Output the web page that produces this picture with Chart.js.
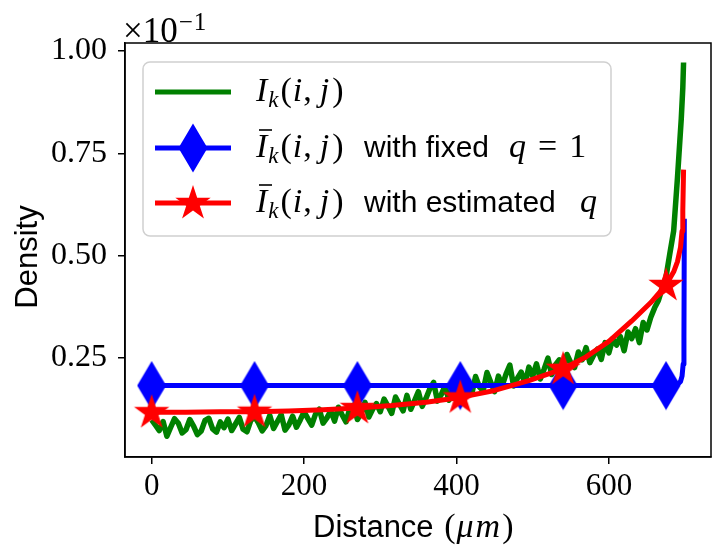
<!DOCTYPE html>
<html><head><meta charset="utf-8">
<script src="https://cdn.jsdelivr.net/npm/chart.js@4.4.0/dist/chart.umd.min.js"></script>
<style>html,body{margin:0;padding:0;background:#fff;}</style>
</head><body>
<canvas id="c" width="728" height="559"></canvas>
<script>
// ---------- data ----------
const xTicks = [0, 200, 400, 600];
const yTicks = [0.25, 0.5, 0.75, 1.0];
const yTickLabels = ['0.25', '0.50', '0.75', '1.00'];
const markerX = [0, 135, 270, 405, 540, 675];

const greenX = [0,5,10,15,20,25,30,35,40,45,50,55,60,65,70,75,80,85,90,95,
  100,105,110,115,120,125,130,135,140,145,150,155,160,165,170,175,180,185,190,195,
  200,205,210,215,220,225,230,235,240,245,250,255,260,265,270,275,280,285,290,295,
  300,305,310,315,320,325,330,335,340,345,350,355,360,365,370,375,380,385,390,395,
  400,405,410,415,420,425,430,435,440,445,450,455,460,465,470,475,480,485,490,495,
  500,505,510,515,520,525,530,535,540,545,550,555,560,565,570,575,580,585,590,595,
  600,605,610,615,620,625,630,635,640,645,650,655,
  660,665,670,675,680,685,690,695,697,698];
const greenY = [0.098,0.085,0.072,0.094,0.058,0.080,0.101,0.090,0.066,0.074,0.099,0.083,0.062,0.071,0.097,0.102,0.076,0.068,0.093,0.079,
  0.100,0.072,0.088,0.104,0.075,0.069,0.096,0.106,0.091,0.071,0.084,0.109,0.077,0.094,0.111,0.073,0.086,0.107,0.080,0.098,
  0.118,0.101,0.085,0.112,0.124,0.090,0.103,0.120,0.095,0.129,0.110,0.093,0.126,0.134,0.099,0.115,0.141,0.105,0.124,0.138,
  0.118,0.149,0.132,0.114,0.154,0.137,0.120,0.158,0.124,0.145,0.167,0.131,0.151,0.174,0.190,0.144,0.160,0.181,0.146,0.172,
  0.185,0.153,0.170,0.195,0.161,0.204,0.179,0.169,0.214,0.190,0.167,0.205,0.182,0.210,0.232,0.181,0.200,0.215,0.186,0.227,
  0.205,0.235,0.198,0.222,0.249,0.209,0.233,0.245,0.217,0.258,0.238,0.226,0.264,0.245,0.275,0.238,0.256,0.271,0.246,0.287,
  0.262,0.296,0.281,0.302,0.267,0.313,0.297,0.321,0.287,0.336,0.318,0.349,
  0.372,0.390,0.420,0.448,0.505,0.560,0.690,0.835,0.910,0.972];

const blueX = [0, 135, 270, 405, 540, 675, 686, 691, 694, 696, 697.5, 698.5, 699];
const blueY = [0.182, 0.182, 0.182, 0.182, 0.182, 0.182, 0.183, 0.186, 0.192, 0.205, 0.235, 0.30, 0.59];

const redX = [0, 45, 90, 135, 180, 225, 270, 315, 360, 405, 450, 495, 540, 570, 600, 630, 655, 675, 685, 690, 694, 696, 697, 698];
const redY = [0.117, 0.117, 0.118, 0.118, 0.120, 0.123, 0.127, 0.133, 0.141, 0.153, 0.170, 0.194, 0.223, 0.252, 0.290, 0.340, 0.385, 0.428, 0.460, 0.485, 0.520, 0.560, 0.610, 0.710];

// ---------- marker images ----------
function diamondImg() {
  const c = document.createElement('canvas'); c.width = 30; c.height = 50;
  const g = c.getContext('2d');
  g.fillStyle = '#0000ff';
  g.beginPath(); g.moveTo(15, 0.5); g.lineTo(29.5, 25); g.lineTo(15, 49.5); g.lineTo(0.5, 25); g.closePath(); g.fill();
  return c;
}
function starImg() {
  const c = document.createElement('canvas'); c.width = 40; c.height = 40;
  const g = c.getContext('2d');
  const R = 18.6, r = R * 0.382, cx = 20, cy = 20.5;
  g.fillStyle = '#ff0000';
  g.beginPath();
  for (let i = 0; i < 10; i++) {
    const a = -Math.PI / 2 + i * Math.PI / 5;
    const rr = i % 2 === 0 ? R : r;
    const px = cx + rr * Math.cos(a), py = cy + rr * Math.sin(a);
    if (i === 0) g.moveTo(px, py); else g.lineTo(px, py);
  }
  g.closePath(); g.fill();
  return c;
}
const DIA = diamondImg();
const STAR = starImg();

const pts = (xs, ys) => xs.map((x, i) => ({x: x, y: ys[i]}));
const markR = (ctx) => (ctx.raw && markerX.includes(ctx.raw.x)) ? 12 : 0;

// ---------- fonts ----------
const MI = 'italic 34px "Liberation Serif"';
const MR = '34px "Liberation Serif"';
const SUB = 'italic 23px "Liberation Serif"';
const SANS = '30px "Liberation Sans"';

function flow(ctx, x, y, parts) {
  for (const p of parts) {
    ctx.font = p.f;
    ctx.fillText(p.t, x, y + (p.dy || 0));
    x += ctx.measureText(p.t).width + (p.sp || 0);
  }
  return x;
}
function ikParts() {
  return [
    {t: 'I', f: MI, sp: 1},
    {t: 'k', f: SUB, dy: 6, sp: 2},
    {t: '(', f: MR, sp: 1},
    {t: 'i', f: MI, sp: 1},
    {t: ',', f: MR, sp: 8},
    {t: 'j', f: MI, sp: 3},
    {t: ')', f: MR}
  ];
}

const deco = {
  id: 'deco',
  afterDraw(chart) {
    const ctx = chart.ctx, a = chart.chartArea;
    ctx.save();
    // frame
    ctx.strokeStyle = '#000'; ctx.lineWidth = 1.5;
    ctx.strokeRect(a.left, a.top, a.right - a.left, a.bottom - a.top);

    // offset text
    ctx.fillStyle = '#000'; ctx.textBaseline = 'alphabetic'; ctx.textAlign = 'left';
    let ox = flow(ctx, 123, 42, [{t: '\u00d7', f: '35px "Liberation Serif"', sp: 0}, {t: '10', f: '35px "Liberation Serif"'}]);
    flow(ctx, ox + 1, 30, [{t: '\u2212', f: '25px "Liberation Serif"', sp: 1}, {t: '1', f: '25px "Liberation Serif"'}]);

    // axis titles
    ctx.save();
    ctx.translate(37, 257); ctx.rotate(-Math.PI / 2);
    ctx.font = '31px "Liberation Sans"'; ctx.textAlign = 'center';
    ctx.fillText('Density', 0, 0);
    ctx.restore();
    ctx.textAlign = 'left';
    flow(ctx, 313, 537, [
      {t: 'Distance ', f: '31px "Liberation Sans"', sp: 2},
      {t: '(', f: MR, sp: 1},
      {t: '\u03bc', f: MI, sp: 2},
      {t: 'm', f: MI, sp: 2},
      {t: ')', f: MR}
    ]);

    // legend box
    const bx = 143, by = 62, bw = 468, bh = 174, br = 7;
    ctx.beginPath();
    ctx.moveTo(bx + br, by);
    ctx.arcTo(bx + bw, by, bx + bw, by + bh, br);
    ctx.arcTo(bx + bw, by + bh, bx, by + bh, br);
    ctx.arcTo(bx, by + bh, bx, by, br);
    ctx.arcTo(bx, by, bx + bw, by, br);
    ctx.closePath();
    ctx.fillStyle = 'rgba(255,255,255,0.8)'; ctx.fill();
    ctx.strokeStyle = '#d0d0d0'; ctx.lineWidth = 1.5; ctx.stroke();

    const rows = [
      {y: 92, c: '#008000', m: null},
      {y: 148, c: '#0000ff', m: DIA},
      {y: 203, c: '#ff0000', m: STAR}
    ];
    rows.forEach(r => {
      ctx.strokeStyle = r.c; ctx.lineWidth = 5; ctx.lineCap = 'butt';
      ctx.beginPath(); ctx.moveTo(155, r.y); ctx.lineTo(231, r.y); ctx.stroke();
      if (r.m) ctx.drawImage(r.m, 193 - r.m.width / 2, r.y - r.m.height / 2);
    });

    ctx.fillStyle = '#000';
    // row 1
    flow(ctx, 256, 101, ikParts());
    // row 2
    flow(ctx, 256, 157, ikParts());
    flow(ctx, 364, 157, [{t: 'with fixed', f: SANS}]);
    flow(ctx, 509, 157, [{t: 'q', f: MI, sp: 12}, {t: '=', f: MR, sp: 12}, {t: '1', f: MR}]);
    // row 3
    flow(ctx, 256, 212, ikParts());
    flow(ctx, 364, 212, [{t: 'with estimated', f: SANS}]);
    flow(ctx, 580, 212, [{t: 'q', f: MI}]);
    // bars over I
    ctx.strokeStyle = '#000'; ctx.lineWidth = 1.6;
    [157, 212].forEach(yb => {
      ctx.beginPath(); ctx.moveTo(259, yb - 27); ctx.lineTo(272, yb - 27); ctx.stroke();
    });
    ctx.restore();
  }
};

new Chart(document.getElementById('c'), {
  type: 'line',
  data: {
    datasets: [
      {
        data: pts(redX, redY), borderColor: '#ff0000', backgroundColor: '#ff0000',
        borderWidth: 5, pointStyle: STAR, pointRadius: markR, pointHoverRadius: markR, order: 0
      },
      {
        data: pts(blueX, blueY), borderColor: '#0000ff', backgroundColor: '#0000ff',
        borderWidth: 5, pointStyle: DIA, pointRadius: markR, pointHoverRadius: markR, order: 1
      },
      {
        data: pts(greenX, greenY), borderColor: '#008000', backgroundColor: '#008000',
        borderWidth: 5.5, pointRadius: 0, order: 2
      }
    ]
  },
  options: {
    responsive: false, animation: false, devicePixelRatio: 1,
    layout: {padding: {top: 43, right: 14, left: 0, bottom: 0}},
    elements: {line: {tension: 0, borderJoinStyle: 'round', fill: false}},
    plugins: {legend: {display: false}, tooltip: {enabled: false}},
    events: [],
    scales: {
      x: {
        type: 'linear', min: -35, max: 734,
        afterBuildTicks: s => { s.ticks = xTicks.map(v => ({value: v})); },
        afterFit: s => { s.height = 102; },
        ticks: {font: {family: 'Liberation Serif', size: 31}, color: '#000', padding: 4, maxRotation: 0, autoSkip: false,
          callback: v => String(v)},
        grid: {display: true, drawOnChartArea: false, drawTicks: true, tickLength: 7, color: '#000', lineWidth: 1.5},
        border: {display: true, color: '#000', width: 1.5}
      },
      y: {
        type: 'linear', min: 0.0073, max: 1.0196,
        afterBuildTicks: s => { s.ticks = yTicks.map(v => ({value: v})); },
        afterFit: s => { s.width = 125; },
        ticks: {font: {family: 'Liberation Serif', size: 32}, color: '#000', padding: 11, autoSkip: false,
          callback: v => yTickLabels[yTicks.indexOf(v)]},
        grid: {display: true, drawOnChartArea: false, drawTicks: true, tickLength: 7, color: '#000', lineWidth: 1.5},
        border: {display: true, color: '#000', width: 1.5}
      }
    }
  },
  plugins: [deco]
});
</script>
</body></html>
